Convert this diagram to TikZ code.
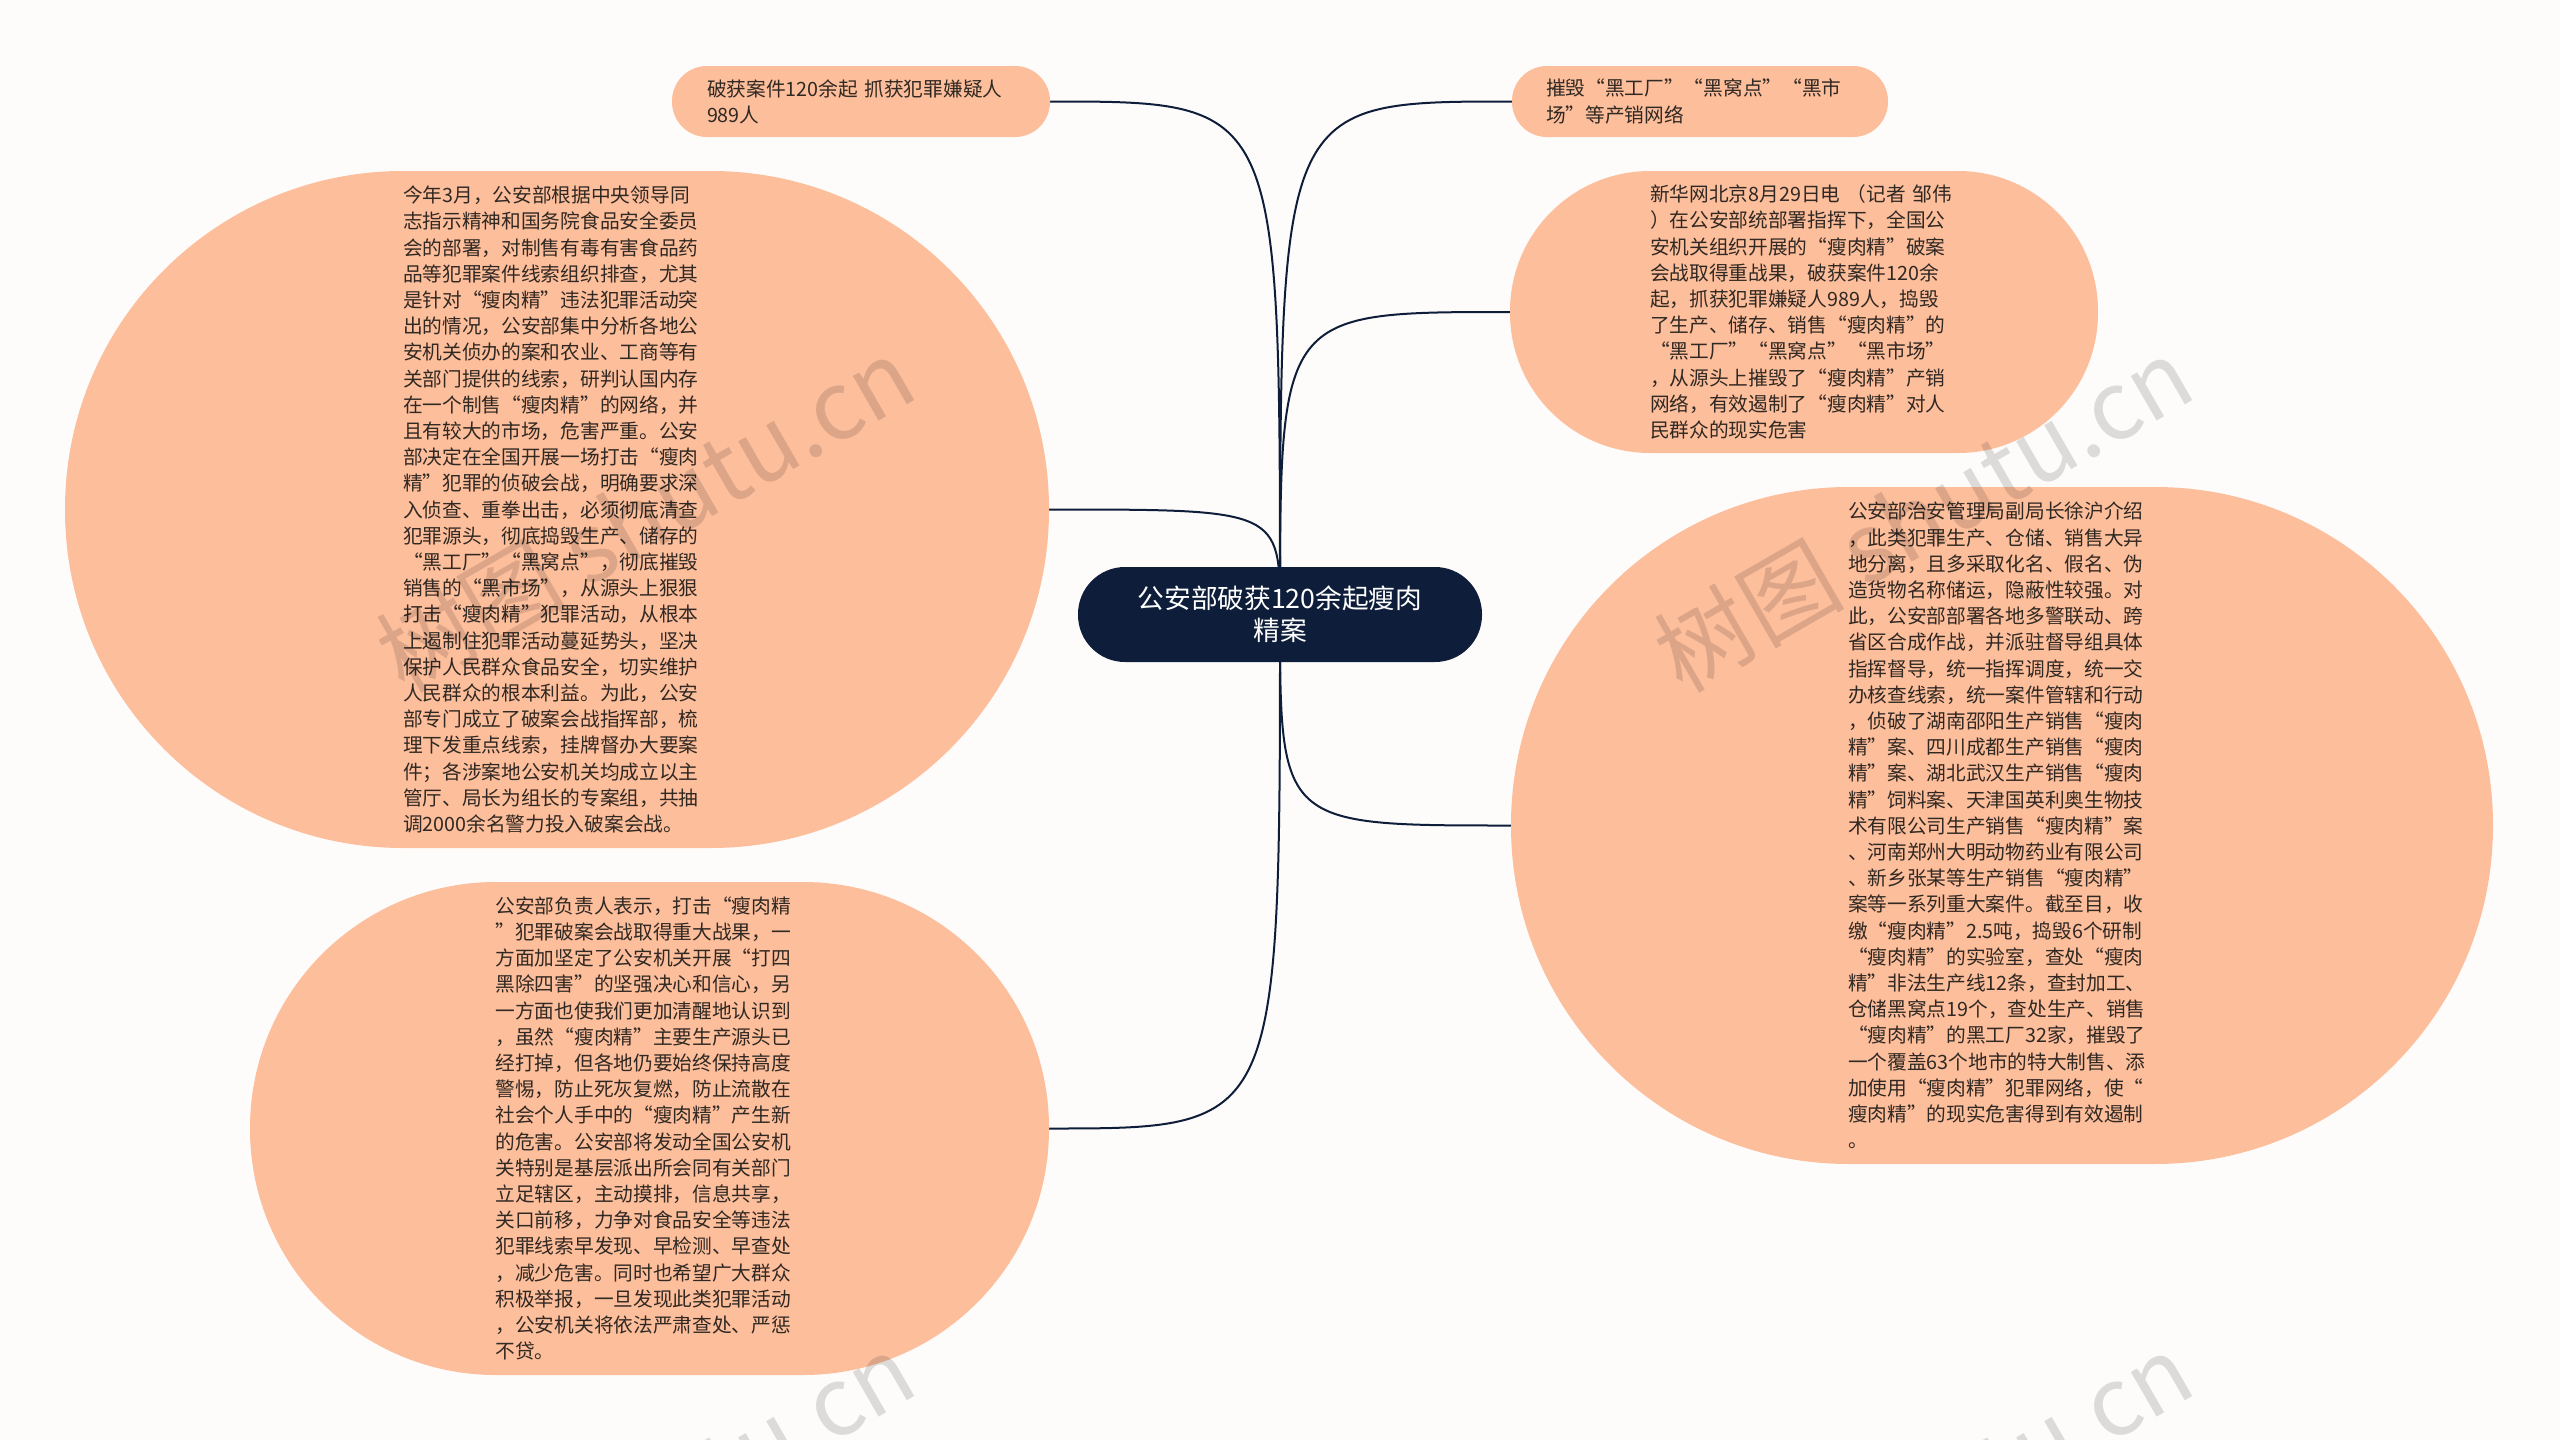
\documentclass[tikz,border=0pt]{standalone}
\usepackage{fontspec}
\newfontfamily\cjk{Noto Sans CJK SC}
\usetikzlibrary{backgrounds}
\definecolor{peach}{RGB}{253,190,156}
\definecolor{navy}{RGB}{14,30,58}
\definecolor{ink}{RGB}{48,40,34}
\definecolor{paper}{RGB}{254,252,251}

\tikzset{
  topic/.style={fill=peach, text=ink, inner sep=0pt, align=left, text width=308pt,
    font=\cjk\fontsize{19.7}{26.2}\selectfont},
  root/.style={fill=navy, text=white, inner sep=0pt, align=center,
    minimum width=404pt, minimum height=95pt, rounded corners=47pt,
    font=\cjk\fontsize{26.7}{32}\selectfont},
  link/.style={draw=navy, line width=2pt},
  wmark/.style={text=black, opacity=0.13, rotate=30, font=\cjk\fontsize{95}{100}\selectfont}
}

\begin{document}
\begin{tikzpicture}[x=1pt,y=-1pt]
\useasboundingbox (0,0) rectangle (2560,1440);

\node [root] (r) at (1280,614.5) {公安部破获120余起瘦肉\\精案};

\node [topic, minimum width=378pt, minimum height=71pt, rounded corners=35pt] (b1) at (861,101.5)
  {破获案件120余起 抓获犯罪嫌疑人\\989人};
\node [topic, minimum width=376pt, minimum height=71pt, rounded corners=35pt] (b2) at (1700,101.5)
  {摧毁“黑工厂”“黑窝点”“黑市\\场”等产销网络};

\node [topic, minimum width=984pt, minimum height=677pt, rounded corners=338pt] (b3) at (557,509.5)
  {今年3月，公安部根据中央领导同\\志指示精神和国务院食品安全委员\\会的部署，对制售有毒有害食品药\\品等犯罪案件线索组织排查，尤其\\是针对“瘦肉精”违法犯罪活动突\\出的情况，公安部集中分析各地公\\安机关侦办的案和农业、工商等有\\关部门提供的线索，研判认国内存\\在一个制售“瘦肉精”的网络，并\\且有较大的市场，危害严重。公安\\部决定在全国开展一场打击“瘦肉\\精”犯罪的侦破会战，明确要求深\\入侦查、重拳出击，必须彻底清查\\犯罪源头，彻底捣毁生产、储存的\\“黑工厂”“黑窝点”，彻底摧毁\\销售的“黑市场”，从源头上狠狠\\打击“瘦肉精”犯罪活动，从根本\\上遏制住犯罪活动蔓延势头，坚决\\保护人民群众食品安全，切实维护\\人民群众的根本利益。为此，公安\\部专门成立了破案会战指挥部，梳\\理下发重点线索，挂牌督办大要案\\件；各涉案地公安机关均成立以主\\管厅、局长为组长的专案组，共抽\\调2000余名警力投入破案会战。};

\node [topic, minimum width=588pt, minimum height=282pt, rounded corners=140pt] (b4) at (1804,312)
  {新华网北京8月29日电 （记者 邹伟\\）在公安部统部署指挥下，全国公\\安机关组织开展的“瘦肉精”破案\\会战取得重战果，破获案件120余\\起，抓获犯罪嫌疑人989人，捣毁\\了生产、储存、销售“瘦肉精”的\\“黑工厂”“黑窝点”“黑市场”\\，从源头上摧毁了“瘦肉精”产销\\网络，有效遏制了“瘦肉精”对人\\民群众的现实危害};

\node [topic, minimum width=982pt, minimum height=677pt, rounded corners=338pt] (b5) at (2002,825.5)
  {公安部治安管理局副局长徐沪介绍\\，此类犯罪生产、仓储、销售大异\\地分离，且多采取化名、假名、伪\\造货物名称储运，隐蔽性较强。对\\此，公安部部署各地多警联动、跨\\省区合成作战，并派驻督导组具体\\指挥督导，统一指挥调度，统一交\\办核查线索，统一案件管辖和行动\\，侦破了湖南邵阳生产销售“瘦肉\\精”案、四川成都生产销售“瘦肉\\精”案、湖北武汉生产销售“瘦肉\\精”饲料案、天津国英利奥生物技\\术有限公司生产销售“瘦肉精”案\\、河南郑州大明动物药业有限公司\\、新乡张某等生产销售“瘦肉精”\\案等一系列重大案件。截至目，收\\缴“瘦肉精”2.5吨，捣毁6个研制\\“瘦肉精”的实验室，查处“瘦肉\\精”非法生产线12条，查封加工、\\仓储黑窝点19个，查处生产、销售\\“瘦肉精”的黑工厂32家，摧毁了\\一个覆盖63个地市的特大制售、添\\加使用“瘦肉精”犯罪网络，使“\\瘦肉精”的现实危害得到有效遏制\\。};

\node [topic, minimum width=799pt, minimum height=493pt, rounded corners=246pt] (b6) at (649.5,1128.5)
  {公安部负责人表示，打击“瘦肉精\\”犯罪破案会战取得重大战果，一\\方面加坚定了公安机关开展“打四\\黑除四害”的坚强决心和信心，另\\一方面也使我们更加清醒地认识到\\，虽然“瘦肉精”主要生产源头已\\经打掉，但各地仍要始终保持高度\\警惕，防止死灰复燃，防止流散在\\社会个人手中的“瘦肉精”产生新\\的危害。公安部将发动全国公安机\\关特别是基层派出所会同有关部门\\立足辖区，主动摸排，信息共享，\\关口前移，力争对食品安全等违法\\犯罪线索早发现、早检测、早查处\\，减少危害。同时也希望广大群众\\积极举报，一旦发现此类犯罪活动\\，公安机关将依法严肃查处、严惩\\不贷。};

\begin{scope}[on background layer]
\fill [paper] (0,0) rectangle (2560,1440);
\foreach \n/\a in {b1/east,b3/east,b6/east,b2/west,b4/west,b5/west}
  \draw [link] (r.center) .. controls (r.center |- \n.\a) .. (\n.\a);
\end{scope}

% watermark
\node [wmark] (w1) at (645,514) {树图 shutu.cn};
\node [wmark] (w2) at (1923,514) {树图 shutu.cn};
\node [wmark] (w3) at (645,1510) {树图 shutu.cn};
\node [wmark] (w4) at (1923,1510) {树图 shutu.cn};

\end{tikzpicture}
\end{document}
